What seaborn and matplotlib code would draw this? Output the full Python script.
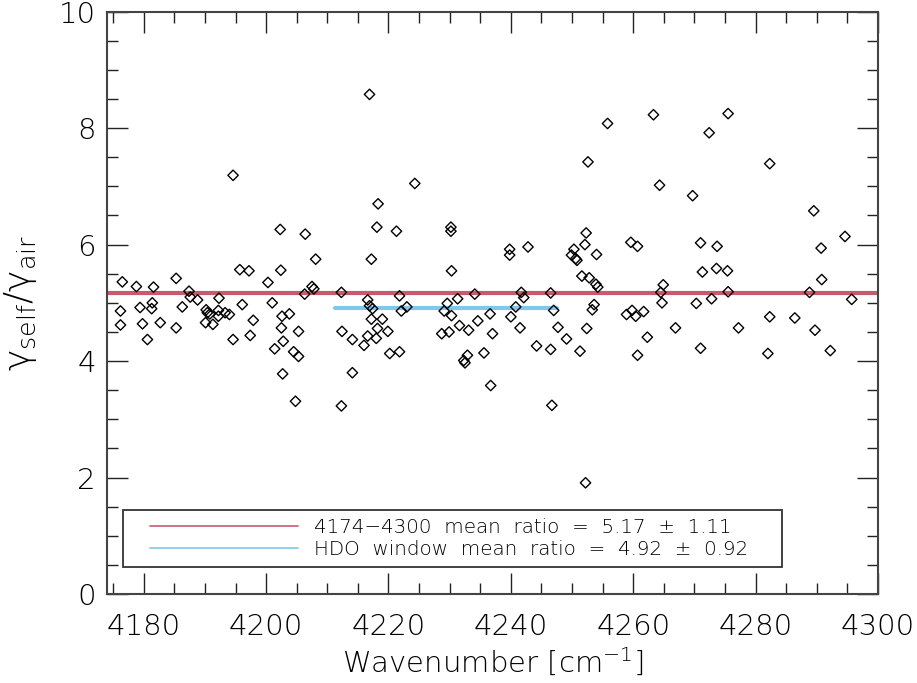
import matplotlib
matplotlib.use("Agg")
import matplotlib.pyplot as plt
import seaborn as sns
import pandas as pd
from matplotlib.lines import Line2D
from matplotlib.legend_handler import HandlerLine2D
from matplotlib.ticker import MultipleLocator

# ---- data ----
wavenumber = [
    4194.6, 4202.3, 4206.4, 4208.1, 4195.7, 4197.2, 4202.4, 4176.5, 4178.8, 4181.6,
    4185.3, 4200.3, 4187.4, 4187.6, 4188.8, 4192.3, 4207.5, 4207.8, 4206.3, 4176.2,
    4176.2, 4179.4, 4181.4, 4181.3, 4179.8, 4180.6, 4182.7, 4186.3, 4185.3, 4190.2,
    4190.4, 4190.8, 4192.2, 4192.2, 4193.3, 4194.0, 4190.1, 4191.3, 4196.1, 4197.9,
    4194.6, 4197.4, 4201.0, 4202.6, 4203.8, 4202.5, 4205.3, 4202.8, 4201.4, 4204.5,
    4205.3, 4202.7, 4204.8,
    4216.9, 4224.3, 4218.3, 4218.1, 4221.3, 4230.2, 4230.2, 4217.2, 4230.3, 4239.8,
    4239.8, 4242.8, 4212.3, 4221.8, 4234.1, 4241.7, 4242.1, 4246.5, 4216.6, 4216.9,
    4217.4, 4223.0, 4222.1, 4229.6, 4231.3, 4229.1, 4230.3, 4240.8, 4240.0, 4247.0,
    4217.2, 4219.0, 4218.2, 4219.9, 4216.6, 4218.0, 4216.0, 4212.4, 4214.1, 4220.2,
    4221.8, 4214.1, 4212.3, 4228.7, 4229.9, 4231.6, 4233.1, 4234.6, 4236.6, 4237.0,
    4241.5, 4232.9, 4232.3, 4232.5, 4235.6, 4244.2, 4246.5, 4247.7, 4236.7, 4246.7,
    4255.8, 4263.3, 4275.5, 4272.4, 4252.6, 4264.3, 4269.7, 4252.3, 4252.1, 4250.3,
    4249.9, 4250.6, 4250.8, 4254.0, 4259.6, 4260.7, 4271.0, 4273.7, 4251.6, 4252.8,
    4253.9, 4254.2, 4271.3, 4273.6, 4275.4, 4264.9, 4264.5, 4275.5, 4264.7, 4270.3,
    4272.8, 4253.6, 4253.3, 4259.8, 4258.9, 4260.4, 4261.7, 4249.1, 4252.4, 4251.3,
    4262.3, 4260.7, 4266.9, 4271.0, 4277.2, 4252.2,
    4282.3, 4289.5, 4294.6, 4290.7, 4290.8, 4288.8, 4295.7, 4282.3, 4286.4, 4289.7,
    4292.2, 4282.0,
]
ratio = [
    7.19, 6.26, 6.18, 5.75, 5.57, 5.55, 5.56, 5.36, 5.28, 5.27,
    5.42, 5.35, 5.20, 5.10, 5.05, 5.08, 5.28, 5.24, 5.15, 4.86,
    4.62, 4.92, 5.00, 4.90, 4.64, 4.37, 4.66, 4.93, 4.57, 4.88,
    4.83, 4.81, 4.87, 4.77, 4.83, 4.80, 4.66, 4.63, 4.97, 4.70,
    4.37, 4.44, 5.00, 4.77, 4.81, 4.57, 4.51, 4.34, 4.21, 4.16,
    4.08, 3.78, 3.31,
    8.58, 7.05, 6.70, 6.30, 6.23, 6.30, 6.23, 5.75, 5.55, 5.92,
    5.82, 5.96, 5.18, 5.12, 5.15, 5.18, 5.09, 5.17, 5.05, 4.95,
    4.90, 4.93, 4.86, 4.99, 5.07, 4.86, 4.78, 4.93, 4.76, 4.87,
    4.72, 4.72, 4.56, 4.51, 4.43, 4.39, 4.27, 4.51, 4.37, 4.13,
    4.16, 3.80, 3.23, 4.47, 4.50, 4.61, 4.53, 4.69, 4.81, 4.47,
    4.57, 4.10, 4.01, 3.97, 4.14, 4.26, 4.20, 4.58, 3.58, 3.24,
    8.08, 8.23, 8.25, 7.92, 7.42, 7.02, 6.84, 6.20, 6.00, 5.92,
    5.82, 5.76, 5.73, 5.83, 6.04, 5.97, 6.03, 5.97, 5.46, 5.43,
    5.32, 5.27, 5.53, 5.59, 5.55, 5.31, 5.18, 5.19, 5.00, 4.99,
    5.07, 4.97, 4.88, 4.87, 4.80, 4.77, 4.85, 4.38, 4.56, 4.17,
    4.41, 4.10, 4.57, 4.22, 4.57, 1.91,
    7.39, 6.58, 6.14, 5.94, 5.40, 5.18, 5.06, 4.76, 4.74, 4.53,
    4.18, 4.13,
]

full_range = [4174, 4300]
full_mean = 5.17
hdo_range = [4211.2, 4247.5]
hdo_mean = 4.92
legend_labels = ["4174\u22124300  mean  ratio  =  5.17  \u00b1  1.11",
                 "HDO  window  mean  ratio  =  4.92  \u00b1  0.92"]
red = "#c95a6e"
blue = "#7ec8ec"

sns.set_theme(style="ticks")
plt.rcParams["font.family"] = ["DejaVu Sans"]
plt.rcParams["font.weight"] = "light"
plt.rcParams["mathtext.fontset"] = "custom"
plt.rcParams["mathtext.rm"] = "DejaVu Sans:light"
plt.rcParams["mathtext.it"] = "DejaVu Sans:italic:light"
plt.rcParams["mathtext.bf"] = "DejaVu Sans:bold"
plt.rcParams["mathtext.sf"] = "DejaVu Sans:light"

df = pd.DataFrame({"wavenumber": wavenumber, "ratio": ratio})

fig = plt.figure(figsize=(9.17, 6.83), dpi=100)
ax = fig.add_axes([0.1167, 0.1303, 0.8408, 0.8526])

sns.scatterplot(data=df, x="wavenumber", y="ratio", ax=ax, marker="D",
                s=28, facecolor="none", edgecolor="black", linewidth=1.0,
                zorder=3)

sns.lineplot(x=full_range, y=[full_mean, full_mean], ax=ax, color=red, lw=3,
             zorder=2)
sns.lineplot(x=hdo_range, y=[hdo_mean, hdo_mean], ax=ax, color=blue, lw=3,
             zorder=2)

ax.set_xlim(full_range[0], full_range[1])
ax.set_ylim(0, 10)
ax.xaxis.set_major_locator(MultipleLocator(20))
ax.xaxis.set_minor_locator(MultipleLocator(5))
ax.yaxis.set_major_locator(MultipleLocator(2))
ax.yaxis.set_minor_locator(MultipleLocator(0.5))
ax.tick_params(which="both", direction="in", top=True, right=True,
               color="#222222", width=1.0)
ax.tick_params(which="major", length=15)
ax.tick_params(which="minor", length=8)
ax.tick_params(axis="x", which="major", labelsize=21, pad=14)
ax.tick_params(axis="y", which="major", labelsize=21, pad=8)
for lab in ax.get_xticklabels() + ax.get_yticklabels():
    lab.set_fontweight("light")
    lab.set_color("black")
for sp in ax.spines.values():
    sp.set_linewidth(1.5)
    sp.set_color("#444444")

ax.set_xlabel(r"Wavenumber [cm$^{-1}$]", fontsize=21, fontweight="light",
              labelpad=4, color="black")
ax.set_ylabel("\u03b3$_{\\rm self}$/\u03b3$_{\\rm air}$", fontsize=26,
              fontweight="light", labelpad=14, color="black")

handles = [Line2D([], [], color=red, lw=1.2), Line2D([], [], color=blue, lw=1.2)]
hmap = {h: HandlerLine2D(xpad=0.92) for h in handles}
leg = ax.legend(handles, legend_labels, loc="lower left", handler_map=hmap,
                bbox_to_anchor=(0.0208, 0.046, 0.8547, 0.112), mode="expand",
                fontsize=14.3, frameon=True, fancybox=False, borderaxespad=0,
                handlelength=8.4, handletextpad=0.8, labelspacing=0.13,
                borderpad=0.42)
leg.get_frame().set_edgecolor("black")
leg.get_frame().set_linewidth(1.3)
for t in leg.get_texts():
    t.set_color("black")
    t.set_fontweight("light")

fig.savefig("out.png", dpi=100)
